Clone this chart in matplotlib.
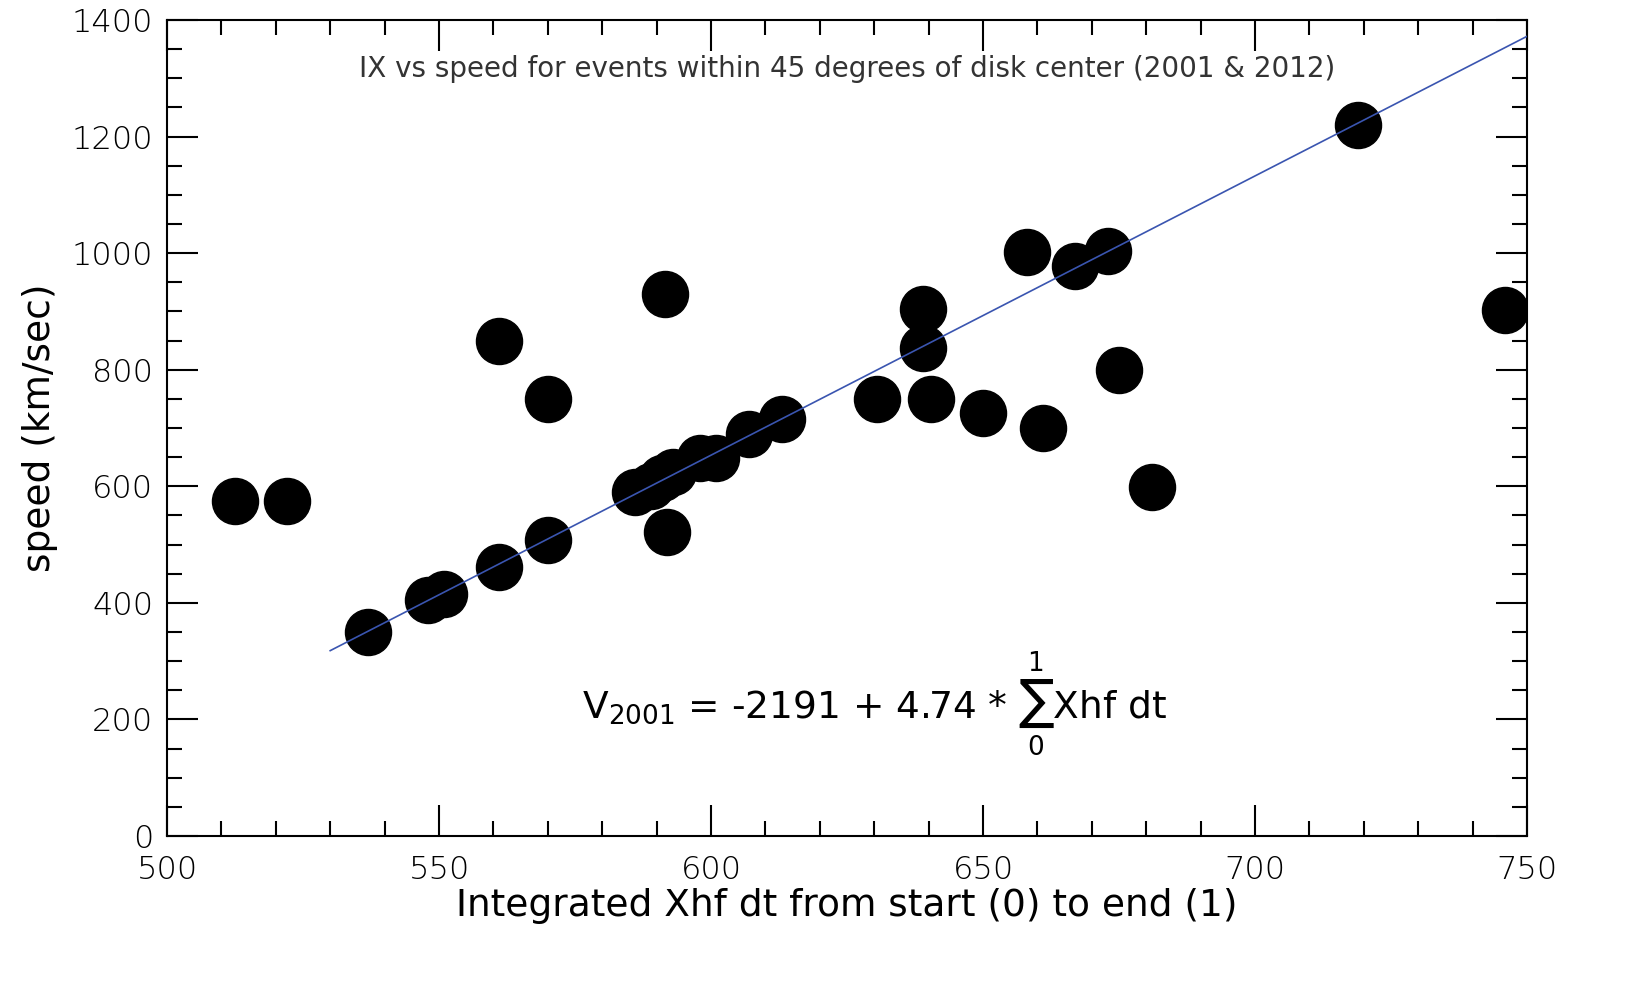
import matplotlib
matplotlib.use("Agg")
import matplotlib.pyplot as plt
from matplotlib.ticker import MultipleLocator

# integrated Xhf dt vs speed
xhf = [512.5, 522, 537, 548, 551, 561, 561, 570, 570, 591.5, 592, 586, 589, 591, 593,
       598, 601, 607, 613, 630.5, 639, 639, 640.5, 650, 658, 661, 667, 673, 675, 681,
       719, 746]
speed = [575, 575, 350, 405, 415, 850, 462, 750, 508, 930, 522, 590, 600, 615, 625,
         648, 648, 690, 715, 750, 905, 838, 750, 726, 1002, 700, 978, 1004, 800, 598,
         1220, 903]
fit_x = [530, 750]
fit_y = [318, 1372]

fig = plt.figure(figsize=(16.52, 9.92), dpi=100)
ax = fig.add_axes([167 / 1652, 1 - 836 / 992, 1360 / 1652, 816 / 992])

ax.scatter(xhf, speed, s=1100, c="black", zorder=3)
ax.plot(fit_x, fit_y, color="#3a55b0", lw=1.2, zorder=4)

ax.set_xlim(500, 750)
ax.set_ylim(0, 1400)
ax.xaxis.set_major_locator(MultipleLocator(50))
ax.xaxis.set_minor_locator(MultipleLocator(10))
ax.yaxis.set_major_locator(MultipleLocator(200))
ax.yaxis.set_minor_locator(MultipleLocator(50))
ax.tick_params(which="both", direction="in", top=True, right=True, labelsize=23,
               width=1.5, pad=10)
ax.tick_params(axis="x", which="major", pad=14)
ax.tick_params(which="major", length=22)
ax.tick_params(which="minor", length=11)
for lab in ax.get_xticklabels() + ax.get_yticklabels():
    lab.set_fontweight("light")
for sp in ax.spines.values():
    sp.set_linewidth(1.5)

ax.set_xlabel("Integrated Xhf dt from start (0) to end (1)", fontsize=27, labelpad=2)
ax.set_ylabel("speed (km/sec)", fontsize=27, labelpad=10)
ax.text(0.5, 0.94, "IX vs speed for events within 45 degrees of disk center (2001 & 2012)",
        transform=ax.transAxes, ha="center", va="center", fontsize=20, color="#333333")
ax.text(0.52, 0.16, r"$\mathregular{V_{2001}}$ = -2191 + 4.74 * $\sum_{0}^{1}$Xhf dt",
        transform=ax.transAxes, ha="center", va="center", fontsize=27)

fig.savefig("out.png", dpi=100)
